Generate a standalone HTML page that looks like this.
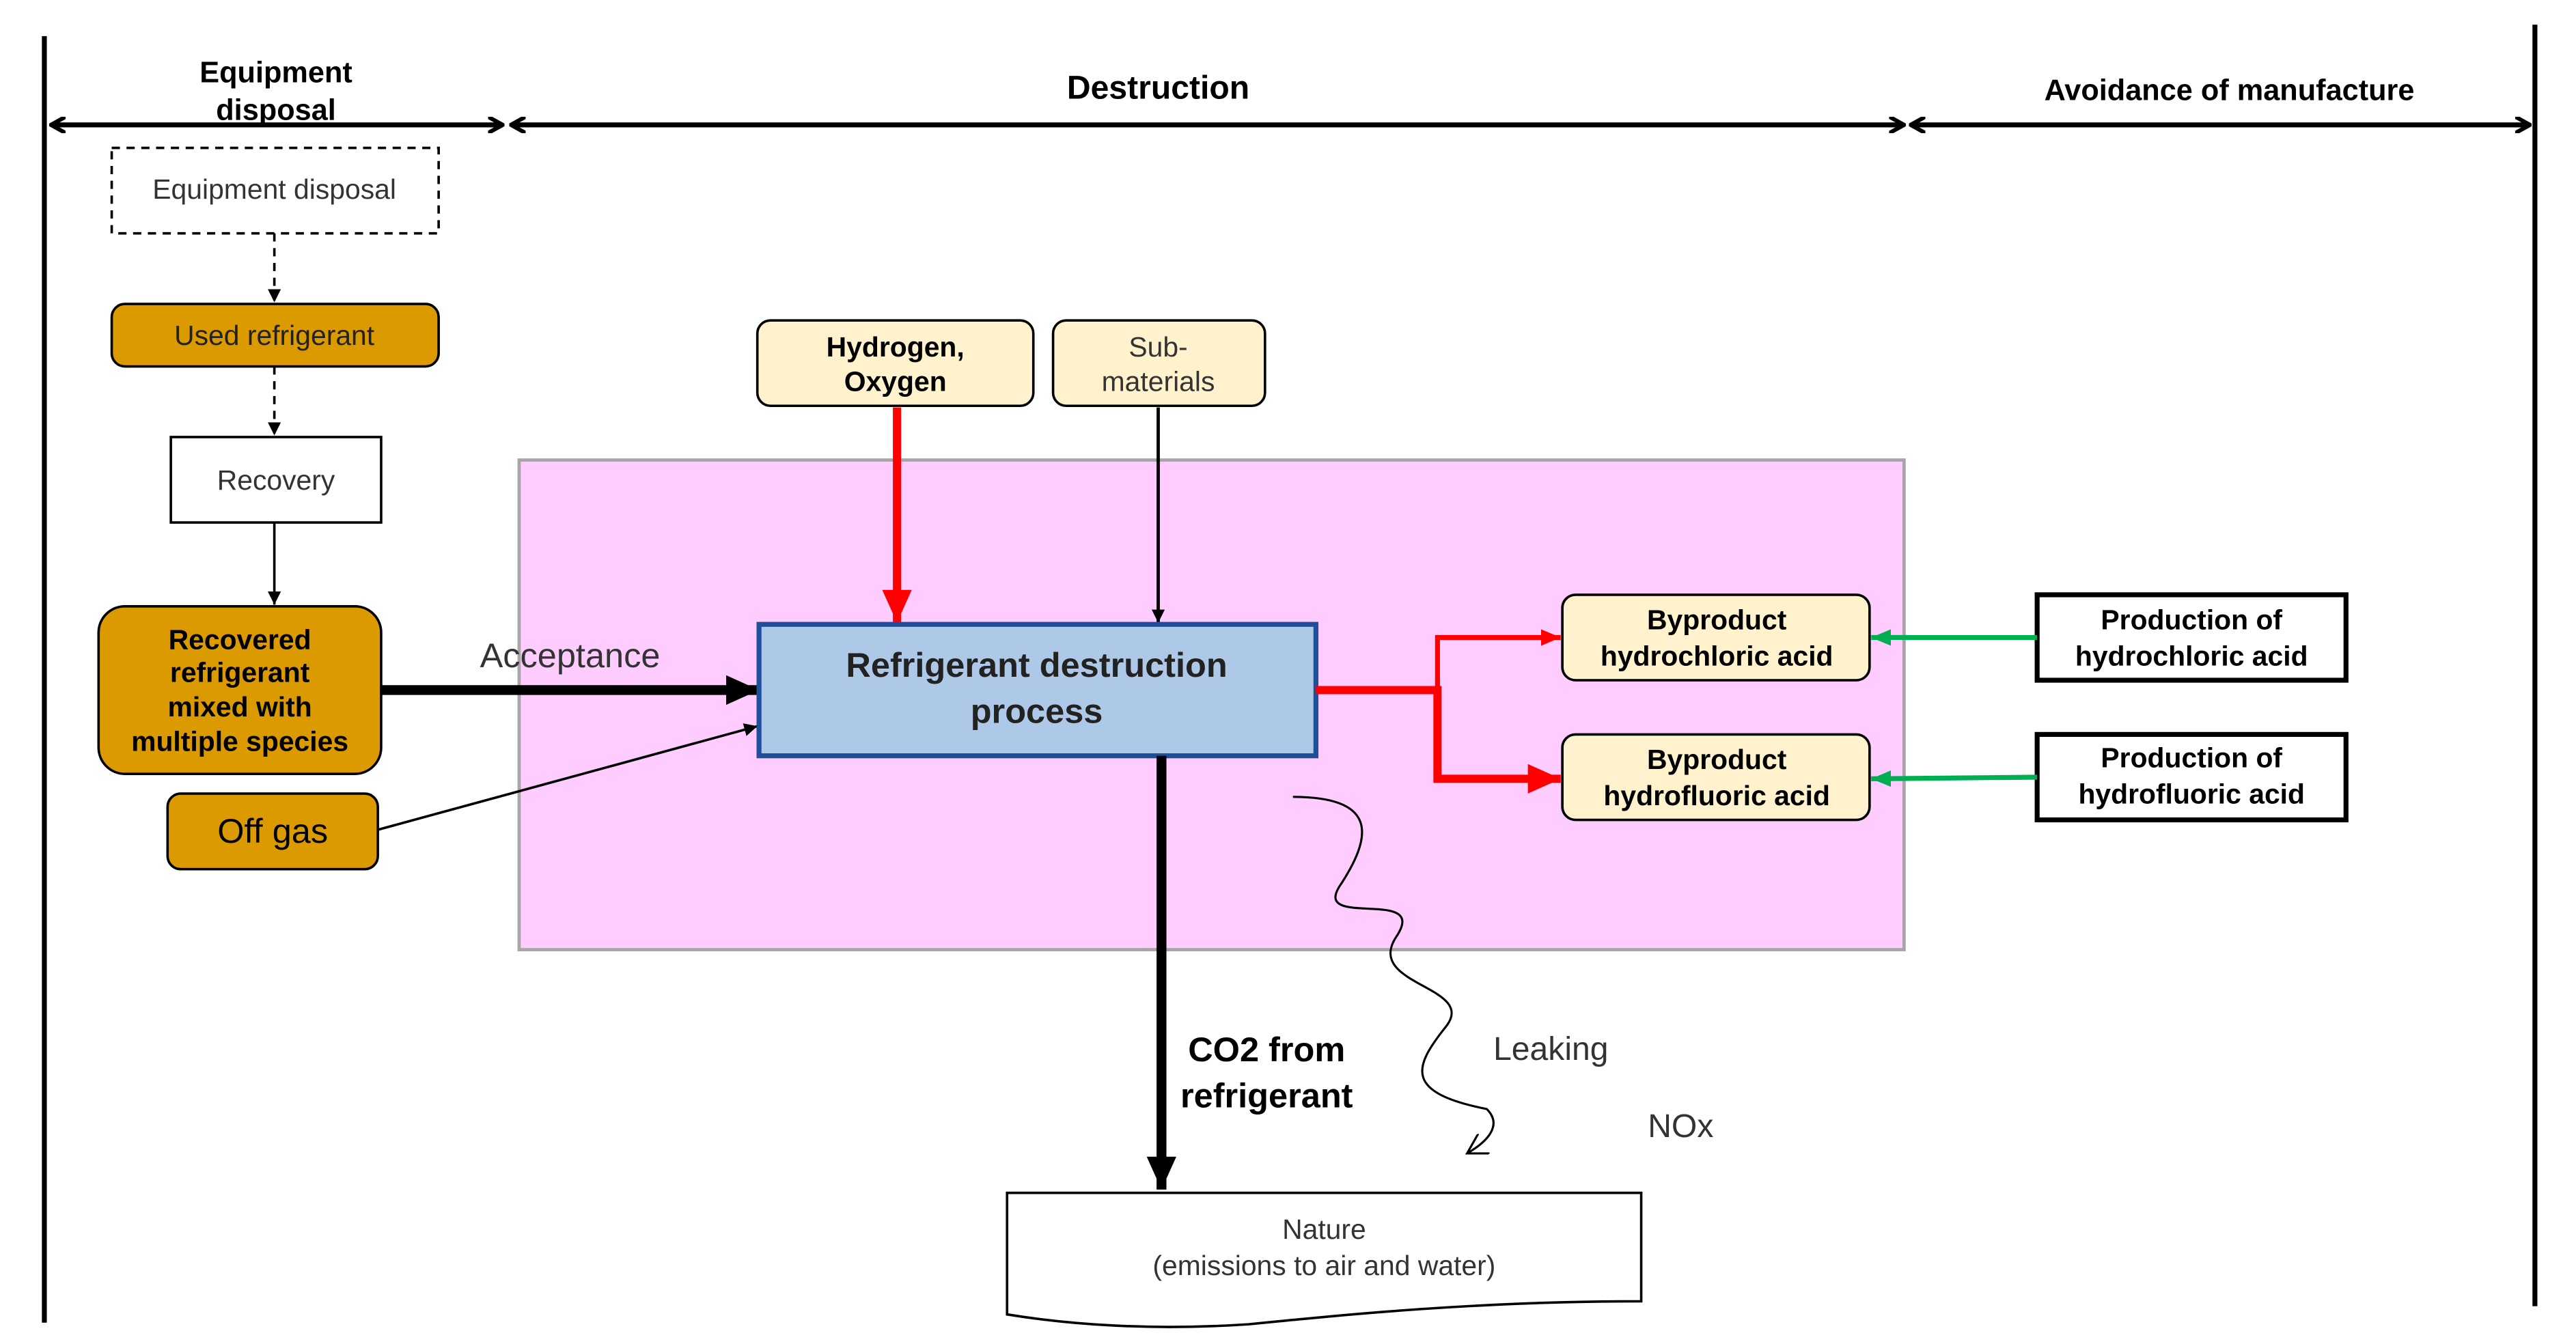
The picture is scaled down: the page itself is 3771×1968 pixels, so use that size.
<!DOCTYPE html>
<html><head><meta charset="utf-8"><style>
html,body{margin:0;padding:0;background:#fff;}
svg{display:block;}
text{font-family:"Liberation Sans","Noto Sans CJK JP",sans-serif;}
</style></head><body>
<svg width="3771" height="1968" viewBox="0 0 1568 818" preserveAspectRatio="none" xmlns="http://www.w3.org/2000/svg">
<defs>
<marker id="ob" markerWidth="10" markerHeight="10" refX="9" refY="5" orient="auto" markerUnits="userSpaceOnUse"><path d="M0,0 L9,5 L0,10" fill="none" stroke="#000" stroke-width="2.5"/></marker>
<marker id="obs" markerWidth="10" markerHeight="10" refX="9" refY="5" orient="auto-start-reverse" markerUnits="userSpaceOnUse"><path d="M0,0 L9,5 L0,10" fill="none" stroke="#000" stroke-width="2.5"/></marker>
<marker id="tb" markerWidth="8" markerHeight="8" refX="8" refY="4" orient="auto" markerUnits="userSpaceOnUse"><path d="M0,0 L8,4 L0,8Z" fill="#000"/></marker>
<marker id="bb" markerWidth="20" markerHeight="20" refX="20" refY="10" orient="auto" markerUnits="userSpaceOnUse"><path d="M0,1 L20,10 L0,19Z" fill="#000"/></marker>
<marker id="rb" markerWidth="20" markerHeight="20" refX="20" refY="10" orient="auto" markerUnits="userSpaceOnUse"><path d="M0,1 L20,10 L0,19Z" fill="#f00"/></marker>
<marker id="rs" markerWidth="12" markerHeight="12" refX="12" refY="6" orient="auto" markerUnits="userSpaceOnUse"><path d="M0,1 L12,6 L0,11Z" fill="#f00"/></marker>
<marker id="gs" markerWidth="12" markerHeight="12" refX="12" refY="6" orient="auto" markerUnits="userSpaceOnUse"><path d="M0,1 L12,6 L0,11Z" fill="#00B050"/></marker>
<marker id="oa" markerWidth="14" markerHeight="14" refX="12" refY="7" orient="auto" markerUnits="userSpaceOnUse"><path d="M0,0 L12,7 L0,14" fill="none" stroke="#000" stroke-width="1.3"/></marker>
</defs>
<line x1="27" y1="22" x2="27" y2="805" stroke="#000" stroke-width="3"/>
<line x1="1543" y1="15" x2="1543" y2="795" stroke="#000" stroke-width="3"/>
<line x1="31" y1="76" x2="306" y2="76" stroke="#000" stroke-width="3" marker-start="url(#obs)" marker-end="url(#ob)"/>
<line x1="311" y1="76" x2="1159" y2="76" stroke="#000" stroke-width="3" marker-start="url(#obs)" marker-end="url(#ob)"/>
<line x1="1163" y1="76" x2="1540" y2="76" stroke="#000" stroke-width="3" marker-start="url(#obs)" marker-end="url(#ob)"/>
<g font-weight="bold" font-size="18" text-anchor="middle">
<text x="168" y="50">Equipment</text><text x="168" y="73">disposal</text>
<text x="705" y="60" font-size="20">Destruction</text>
<text x="1357" y="61">Avoidance of manufacture</text>
</g>
<rect x="316" y="280" width="843" height="298" fill="#FFCCFF" stroke="#A6A6A6" stroke-width="2"/>
<rect x="68" y="90" width="199" height="52" fill="#fff" stroke="#000" stroke-width="1.5" stroke-dasharray="5,4"/>
<text x="167" y="121" font-size="17" text-anchor="middle" fill="#333">Equipment disposal</text>
<line x1="167" y1="142" x2="167" y2="184" stroke="#000" stroke-width="1.5" stroke-dasharray="5,4" marker-end="url(#tb)"/>
<rect x="68" y="185" width="199" height="38" rx="8" fill="#DA9A00" stroke="#000" stroke-width="1.5"/>
<text x="167" y="210" font-size="17" text-anchor="middle" fill="#222">Used refrigerant</text>
<line x1="167" y1="223" x2="167" y2="265" stroke="#000" stroke-width="1.5" stroke-dasharray="5,4" marker-end="url(#tb)"/>
<rect x="104" y="266" width="128" height="52" fill="#fff" stroke="#000" stroke-width="1.5"/>
<text x="168" y="298" font-size="17" text-anchor="middle" fill="#333">Recovery</text>
<line x1="167" y1="318" x2="167" y2="368" stroke="#000" stroke-width="1.5" marker-end="url(#tb)"/>
<rect x="60" y="369" width="172" height="102" rx="16" fill="#DA9A00" stroke="#000" stroke-width="1.5"/>
<g font-size="17" font-weight="bold" text-anchor="middle"><text x="146" y="395">Recovered</text><text x="146" y="415">refrigerant</text><text x="146" y="436">mixed with</text><text x="146" y="457">multiple species</text></g>
<rect x="102" y="483" width="128" height="46" rx="8" fill="#DA9A00" stroke="#000" stroke-width="1.5"/>
<text x="166" y="513" font-size="21" text-anchor="middle">Off gas</text>
<line x1="232" y1="420" x2="462" y2="420" stroke="#000" stroke-width="6" marker-end="url(#bb)"/>
<text x="347" y="406" font-size="21" text-anchor="middle" fill="#333">Acceptance</text>
<line x1="230" y1="505" x2="461" y2="442" stroke="#000" stroke-width="1.5" marker-end="url(#tb)"/>
<rect x="461" y="195" width="168" height="52" rx="8" fill="#FFF2CC" stroke="#000" stroke-width="1.5"/>
<g font-size="17" font-weight="bold" text-anchor="middle"><text x="545" y="217">Hydrogen,</text><text x="545" y="238">Oxygen</text></g>
<rect x="641" y="195" width="129" height="52" rx="8" fill="#FFF2CC" stroke="#000" stroke-width="1.5"/>
<g font-size="17" text-anchor="middle" fill="#333"><text x="705" y="217">Sub-</text><text x="705" y="238">materials</text></g>
<line x1="546" y1="248" x2="546" y2="379" stroke="#f00" stroke-width="5" marker-end="url(#rb)"/>
<line x1="705" y1="248" x2="705" y2="379" stroke="#000" stroke-width="2" marker-end="url(#tb)"/>
<rect x="462" y="380" width="339" height="80" fill="#AEC8E8" stroke="#1F4E9A" stroke-width="3"/>
<g font-size="21" font-weight="bold" text-anchor="middle" fill="#222"><text x="631" y="412">Refrigerant destruction</text><text x="631" y="440">process</text></g>
<polyline points="801,420 875,420 875,388 950,388" fill="none" stroke="#f00" stroke-width="3" marker-end="url(#rs)"/>
<polyline points="801,420 875,420 875,474 950,474" fill="none" stroke="#f00" stroke-width="5" marker-end="url(#rb)"/>
<rect x="951" y="362" width="187" height="52" rx="8" fill="#FFF2CC" stroke="#000" stroke-width="1.5"/>
<g font-size="17" font-weight="bold" text-anchor="middle"><text x="1045" y="383">Byproduct</text><text x="1045" y="405">hydrochloric acid</text></g>
<rect x="951" y="447" width="187" height="52" rx="8" fill="#FFF2CC" stroke="#000" stroke-width="1.5"/>
<g font-size="17" font-weight="bold" text-anchor="middle"><text x="1045" y="468">Byproduct</text><text x="1045" y="490">hydrofluoric acid</text></g>
<rect x="1240" y="362" width="188" height="52" fill="#fff" stroke="#000" stroke-width="3"/>
<g font-size="17" font-weight="bold" text-anchor="middle"><text x="1334" y="383">Production of</text><text x="1334" y="405">hydrochloric acid</text></g>
<rect x="1240" y="447" width="188" height="52" fill="#fff" stroke="#000" stroke-width="3"/>
<g font-size="17" font-weight="bold" text-anchor="middle"><text x="1334" y="467">Production of</text><text x="1334" y="489">hydrofluoric acid</text></g>
<line x1="1240" y1="388" x2="1139" y2="388" stroke="#00B050" stroke-width="3" marker-end="url(#gs)"/>
<line x1="1240" y1="473" x2="1139" y2="474" stroke="#00B050" stroke-width="3" marker-end="url(#gs)"/>
<line x1="707" y1="460" x2="707" y2="724" stroke="#000" stroke-width="6" marker-end="url(#bb)"/>
<g font-size="21" font-weight="bold" text-anchor="middle"><text x="771" y="646">CO2 from</text><text x="771" y="674">refrigerant</text></g>
<path d="M787,485 C840,485 835,510 815,540 C800,565 870,540 850,570 C830,600 900,600 880,625 C860,650 855,665 905,675 C915,685 905,695 893,702" fill="none" stroke="#000" stroke-width="1.3" marker-end="url(#oa)"/>
<text x="944" y="645" font-size="20" text-anchor="middle" fill="#333">Leaking</text>
<text x="1023" y="692" font-size="20" text-anchor="middle" fill="#333">NOx</text>
<path d="M613,726 L999,726 L999,792 C900,792 820,800 760,806 C700,810 650,806 613,800 Z" fill="#fff" stroke="#000" stroke-width="1.5"/>
<g font-size="17" text-anchor="middle" fill="#333"><text x="806" y="754">Nature</text><text x="806" y="776">(emissions to air and water)</text></g>
</svg>
</body></html>
